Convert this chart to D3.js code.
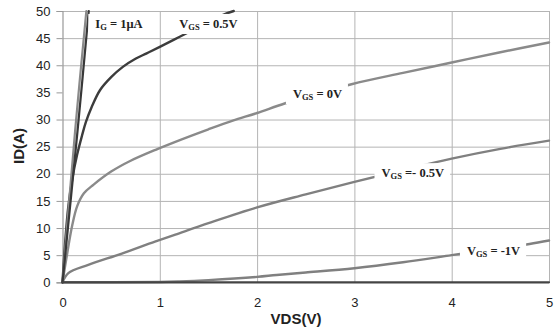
<!DOCTYPE html>
<html>
<head>
<meta charset="utf-8">
<script src="https://cdn.jsdelivr.net/npm/d3@7"></script>
<style>
  html, body { margin: 0; padding: 0; background: #fff; }
  svg { display: block; }
</style>
</head>
<body>
<svg id="chart" width="557" height="327"></svg>
<script>
// ---- data ----
const xTicks = [0, 1, 2, 3, 4, 5];
const yTicks = [0, 5, 10, 15, 20, 25, 30, 35, 40, 45, 50];
const yGrid  = [5, 10, 15, 20, 25, 30, 40, 45, 50];   // the 35 gridline is absent in the reference

const vds_ig_a = [0, 0.13, 0.245];
const id_ig_a  = [0, 28, 50];
const vds_ig_b = [0, 0.155, 0.27];
const id_ig_b  = [0, 28, 50];

const vds_p05 = [0, 0.03, 0.06, 0.1, 0.15, 0.2, 0.24, 0.3, 0.385, 0.5, 0.62, 0.75, 0.865, 1.0, 1.21, 1.43, 1.65, 1.76];
const id_p05  = [0, 8, 14, 19, 23.5, 27, 29.5, 32.3, 35.4, 37.8, 39.7, 41.2, 42.2, 43.4, 45.3, 47.3, 49.3, 50];

const vds_0 = [0, 0.05, 0.1, 0.15, 0.22, 0.32, 0.5, 0.7, 0.98, 1.16, 1.5, 1.75, 2.0, 2.29, 2.97, 3.5, 4.0, 4.5, 5.0];
const id_0  = [0, 5.5, 10.5, 14.0, 16.4, 18.0, 20.4, 22.4, 24.6, 25.9, 28.2, 29.8, 31.2, 33.0, 36.5, 38.6, 40.5, 42.4, 44.2];

const vds_m05 = [0, 0.06, 0.265, 0.61, 0.95, 1.16, 1.5, 2.0, 2.5, 3.0, 3.5, 4.0, 4.5, 5.0];
const id_m05  = [0, 1.7, 3.2, 5.3, 7.5, 8.8, 10.9, 13.8, 16.2, 18.5, 20.7, 22.8, 24.6, 26.1];

const vds_m1 = [0, 1.0, 1.2, 1.5, 2.0, 2.2, 2.5, 3.0, 3.5, 4.0, 4.5, 4.8, 5.0];
const id_m1  = [0, 0.05, 0.15, 0.4, 1.0, 1.35, 1.8, 2.6, 3.7, 5.0, 6.3, 7.06, 7.7];

const vds_m15 = [0, 5];
const id_m15  = [0, 0];

// labels: main text, subscript, rest, anchor position in data coords
const labelMain = ["I", "V", "V", "V", "V"];
const labelSub  = ["G", "GS", "GS", "GS", "GS"];
const labelRest = [" = 1\u03bcA", " = 0.5V", " = 0V", " =- 0.5V", " = -1V"];
const labelX    = [0.58, 1.5, 2.62, 3.6, 4.43];
const labelY    = [47.5, 47.5, 34.6, 20.0, 5.5];

// ---- chart ----
const svg = d3.select("#chart");
const x = d3.scaleLinear().domain([0, 5]).range([62.5, 549]);
const y = d3.scaleLinear().domain([0, 50]).range([282.3, 11]);

const gridColor = "#b4b4b4";

// horizontal grid
svg.append("g")
  .attr("transform", `translate(${x(0)},0)`)
  .call(d3.axisLeft(y).tickValues(yGrid).tickSize(-(x(5) - x(0))).tickFormat(""))
  .call(g => g.select(".domain").remove())
  .call(g => g.selectAll("line").attr("stroke", gridColor).attr("stroke-width", 1));

// vertical grid
svg.append("g")
  .attr("transform", `translate(0,${y(0)})`)
  .call(d3.axisBottom(x).tickValues(xTicks.slice(1)).tickSize(-(y(0) - y(50))).tickFormat(""))
  .call(g => g.select(".domain").remove())
  .call(g => g.selectAll("line").attr("stroke", gridColor).attr("stroke-width", 1));

// y axis
svg.append("g")
  .attr("transform", `translate(${x(0)},0)`)
  .call(d3.axisLeft(y).tickValues(yTicks).tickSize(6).tickPadding(6).tickFormat(d3.format("d")))
  .call(g => g.select(".domain").attr("stroke", "#999").attr("stroke-width", 1.2))
  .call(g => g.selectAll("line").attr("stroke", "#999"))
  .call(g => g.selectAll("text")
    .attr("font-family", "'Liberation Sans', Arial, sans-serif")
    .attr("font-size", 13).attr("fill", "#222"));

// x axis labels
svg.append("g")
  .attr("transform", `translate(0,${y(0)})`)
  .call(d3.axisBottom(x).tickValues(xTicks).tickSize(0).tickPadding(15).tickFormat(d3.format("d")))
  .call(g => g.select(".domain").remove())
  .call(g => g.selectAll("text")
    .attr("font-family", "'Liberation Sans', Arial, sans-serif")
    .attr("font-size", 13).attr("fill", "#222"));

// curves
const line = d3.line().x(d => x(d[0])).y(d => y(d[1])).curve(d3.curveCatmullRom.alpha(0.5));
const zip = (a, b) => a.map((v, i) => [v, b[i]]);
const series = [
  { d: zip(vds_m1, id_m1),   c: "#808080", w: 2.4 },
  { d: zip(vds_m05, id_m05), c: "#808080", w: 2.4 },
  { d: zip(vds_0, id_0),     c: "#8a8a8a", w: 2.4 },
  { d: zip(vds_p05, id_p05), c: "#3c3c3c", w: 2.4 },
  { d: zip(vds_ig_a, id_ig_a), c: "#8a8a8a", w: 2.2 },
  { d: zip(vds_ig_b, id_ig_b), c: "#383838", w: 2.2 },
  { d: zip(vds_m15, id_m15), c: "#444", w: 2.2 }
];
svg.append("g").selectAll("path").data(series).join("path")
  .attr("d", s => line(s.d))
  .attr("fill", "none")
  .attr("stroke", s => s.c)
  .attr("stroke-width", s => s.w)
  .attr("stroke-linejoin", "round")
  .attr("stroke-linecap", "round");

// labels with white boxes
const lg = svg.append("g");
labelMain.forEach((m, i) => {
  const g = lg.append("g");
  const rect = g.append("rect").attr("fill", "#fff");
  const t = g.append("text")
    .attr("x", x(labelX[i])).attr("y", y(labelY[i]))
    .attr("text-anchor", "middle")
    .attr("dominant-baseline", "middle")
    .attr("font-family", "'Liberation Serif', 'Times New Roman', serif")
    .attr("font-weight", "bold")
    .attr("font-size", 12.5)
    .attr("fill", "#222");
  t.append("tspan").text(m);
  t.append("tspan").attr("font-size", 8.5).attr("dy", 3).text(labelSub[i]);
  t.append("tspan").attr("dy", -3).text(labelRest[i]);
  const bb = t.node().getBBox();
  rect.attr("x", bb.x - 7).attr("y", bb.y - 2.5).attr("width", bb.width + 13).attr("height", bb.height + 5);
});

// axis titles
svg.append("text")
  .attr("x", 296).attr("y", 324)
  .attr("text-anchor", "middle")
  .attr("font-family", "'Liberation Sans', Arial, sans-serif")
  .attr("font-weight", "bold").attr("font-size", 15).attr("fill", "#222")
  .text("VDS(V)");

svg.append("text")
  .attr("transform", "translate(24,146) rotate(-90)")
  .attr("text-anchor", "middle")
  .attr("font-family", "'Liberation Sans', Arial, sans-serif")
  .attr("font-weight", "bold").attr("font-size", 15).attr("fill", "#222")
  .text("ID(A)");
</script>
</body>
</html>
